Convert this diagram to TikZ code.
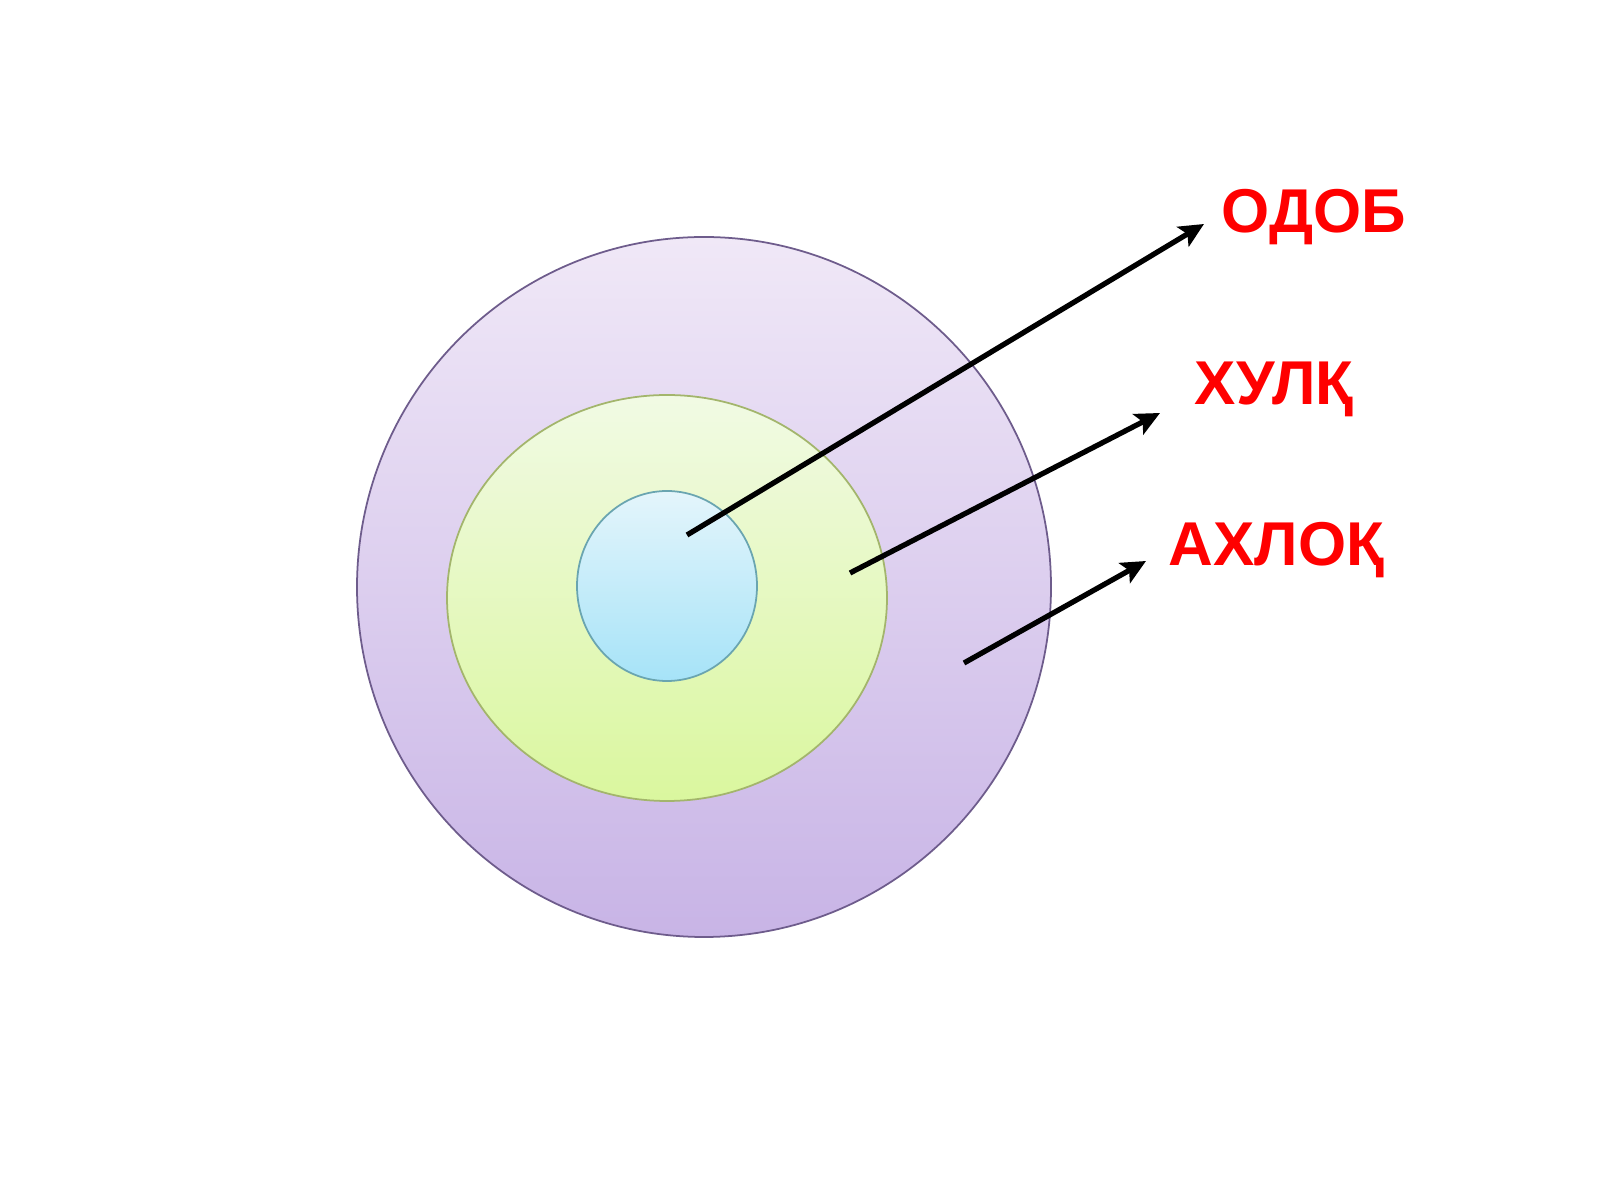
\documentclass[tikz,border=0pt]{standalone}
\usepackage{fontspec}
\setmainfont{Liberation Sans}
\usetikzlibrary{arrows.meta}
\definecolor{outerTop}{HTML}{F0E8F7}
\definecolor{outerBot}{HTML}{C8B4E6}
\definecolor{outerLine}{HTML}{6E5C8C}
\definecolor{greenTop}{HTML}{F1FAE4}
\definecolor{greenBot}{HTML}{DAF79E}
\definecolor{greenLine}{HTML}{A3B56C}
\definecolor{blueTop}{HTML}{E4F5FB}
\definecolor{blueBot}{HTML}{A6E3F8}
\definecolor{blueLine}{HTML}{6AA5B0}
\definecolor{labelRed}{HTML}{FF0000}
\tikzset{
  lbl/.style={anchor=base west, inner sep=0pt, text=labelRed, font=\fontsize{17.6}{20}\selectfont\bfseries},
  pointer/.style={line width=1.5pt, -{Stealth[length=7pt,width=6.5pt,inset=1.5pt]}, black}
}
\begin{document}
\begin{tikzpicture}[x=0.01cm,y=0.01cm]
\useasboundingbox (0,0) rectangle (1600,1200);
\fill[white] (0,0) rectangle (1600,1200);
% rings
\path[top color=outerTop, bottom color=outerBot, draw=outerLine, line width=0.5pt]
  (704,613) ellipse [x radius=347, y radius=350];
\path[top color=greenTop, bottom color=greenBot, draw=greenLine, line width=0.5pt]
  (667,602) ellipse [x radius=220, y radius=203];
\path[top color=blueTop, bottom color=blueBot, draw=blueLine, line width=0.5pt]
  (667,614) ellipse [x radius=90, y radius=95];
% labels
\node[lbl] (odob) at (1221,967) {ОДОБ};
\node[lbl] (hulq) at (1194,795) {ХУЛҚ};
\node[lbl] (ahloq) at (1168,634) {АХЛОҚ};
% pointer ends
\coordinate (t1) at (687,665);
\coordinate (h1) at (1204,976);
\coordinate (t2) at (850,627);
\coordinate (h2) at (1160,787);
\coordinate (t3) at (964,537);
\coordinate (h3) at (1146,639);
\draw[pointer] (t1) -- (h1);
\draw[pointer] (t2) -- (h2);
\draw[pointer] (t3) -- (h3);
\end{tikzpicture}
\end{document}
